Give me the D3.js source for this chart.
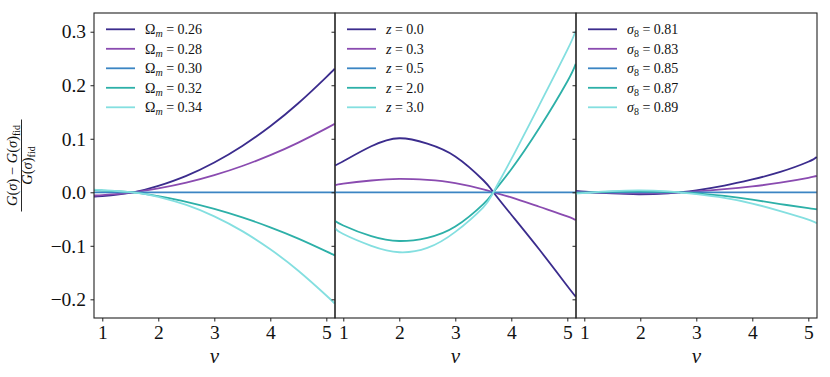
<!DOCTYPE html>
<html><head><meta charset="utf-8">
<script src="https://cdn.jsdelivr.net/npm/d3@7"></script>
<style>
body{margin:0;background:#fff}
svg{display:block}
text{font-family:"Liberation Serif","DejaVu Serif",serif;fill:#111}
</style>
</head><body>
<svg id="chart" width="830" height="377"></svg>
<script>
// ---------------- data ----------------
const colors = ["#3b2c8d", "#8a4bb0", "#3b85c3", "#2db0a8", "#84dfe0"];

const nuOmega = [0.85, 1.0, 1.55, 2.0, 2.5, 3.0, 3.5, 4.0, 4.5, 5.0, 5.15];
const omegaLabels = ["0.26", "0.28", "0.30", "0.32", "0.34"];
const omegaValues = [
  [-0.008, -0.0072, 0, 0.0119, 0.0308, 0.0557, 0.0866, 0.1235, 0.1664, 0.2153, 0.231],
  [-0.006, -0.0052, 0, 0.0071, 0.018, 0.032, 0.0491, 0.0694, 0.0929, 0.1194, 0.128],
  [0, 0, 0, 0, 0, 0, 0, 0, 0, 0, 0],
  [0.004, 0.0033, 0, -0.0072, -0.0178, -0.031, -0.0469, -0.0654, -0.0865, -0.1104, -0.118],
  [0.005, 0.0042, 0, -0.0084, -0.0236, -0.045, -0.0726, -0.1065, -0.1466, -0.1929, -0.208]
];

const nuZ = [0.85, 1.0, 1.5, 2.0, 2.5, 3.0, 3.5, 3.68, 4.0, 4.5, 5.0, 5.15];
const zLabels = ["0.0", "0.3", "0.5", "2.0", "3.0"];
const zValues = [
  [0.050, 0.058, 0.086, 0.101, 0.091, 0.067, 0.0225, 0, -0.042, -0.107, -0.175, -0.195],
  [0.013, 0.016, 0.022, 0.025, 0.023, 0.017, 0.0055, 0, -0.0095, -0.027, -0.045, -0.052],
  [0, 0, 0, 0, 0, 0, 0, 0, 0, 0, 0, 0],
  [-0.053, -0.062, -0.082, -0.091, -0.085, -0.064, -0.022, 0, 0.043, 0.12, 0.207, 0.24],
  [-0.067, -0.078, -0.100, -0.112, -0.104, -0.074, -0.028, 0, 0.062, 0.163, 0.266, 0.302]
];

const nuSigma8 = [0.85, 1.14, 1.5, 2.0, 2.5, 2.7, 3.0, 3.5, 4.0, 4.5, 5.0, 5.15];
const sigma8Labels = ["0.81", "0.83", "0.85", "0.87", "0.89"];
const sigma8Values = [
  [0.0025, 0, -0.0022, -0.0037, -0.0018, 0, 0.0037, 0.0124, 0.024, 0.038, 0.057, 0.066],
  [0.0013, 0, -0.0011, -0.0019, -0.0009, 0, 0.0018, 0.0058, 0.011, 0.018, 0.027, 0.0305],
  [0, 0, 0, 0, 0, 0, 0, 0, 0, 0, 0, 0],
  [-0.0012, 0, 0.0011, 0.0018, 0.0009, 0, -0.002, -0.0068, -0.0137, -0.022, -0.0295, -0.032],
  [-0.0024, 0, 0.0022, 0.0035, 0.0017, 0, -0.0035, -0.0105, -0.021, -0.035, -0.051, -0.058]
];

const xTicks = [1, 2, 3, 4, 5];
const yTicks = [-0.2, -0.1, 0.0, 0.1, 0.2, 0.3];

// ---------------- layout ----------------
const svg = d3.select("#chart");
const panelLefts = [94, 335, 576];
const panelW = 241, plotTop = 13, plotBottom = 318;
const xDomain = [0.852, 5.155];
const yDomain = [-0.2349, 0.335];
const y = d3.scaleLinear().domain(yDomain).range([plotBottom, plotTop]);

const panels = [
  {nu: nuOmega, vals: omegaValues, labels: omegaLabels, kind: "omega"},
  {nu: nuZ, vals: zValues, labels: zLabels, kind: "z"},
  {nu: nuSigma8, vals: sigma8Values, labels: sigma8Labels, kind: "sigma"}
];

const defs = svg.append("defs");

panels.forEach((p, pi) => {
  const L = panelLefts[pi];
  const x = d3.scaleLinear().domain(xDomain).range([L, L + panelW]);
  const g = svg.append("g");

  defs.append("clipPath").attr("id", "clip" + pi)
    .append("rect").attr("x", L).attr("y", plotTop).attr("width", panelW).attr("height", plotBottom - plotTop);

  const line = d3.line().x((d, i) => x(p.nu[i])).y(d => y(d)).curve(d3.curveNatural);
  const lg = g.append("g").attr("clip-path", `url(#clip${pi})`);
  p.vals.forEach((vals, si) => {
    lg.append("path").attr("d", line(vals)).attr("fill", "none")
      .attr("stroke", colors[si]).attr("stroke-width", 1.8).attr("stroke-linejoin", "round");
  });

  const xa = g.append("g").attr("transform", `translate(0,${plotBottom})`)
    .call(d3.axisBottom(x).tickValues(xTicks).tickSize(3.5).tickPadding(4).tickFormat(d3.format("d")));
  xa.select(".domain").remove();
  xa.selectAll("text").attr("font-size", 19.5).attr("font-family", "Liberation Serif").attr("fill", "#111");
  xa.selectAll("line").attr("stroke", "#222").attr("stroke-width", 1);

  const ya = g.append("g").attr("transform", `translate(${L},0)`)
    .call(d3.axisLeft(y).tickValues(yTicks).tickSize(3.5).tickPadding(4.5)
      .tickFormat(pi === 0 ? d3.format(".1f") : () => ""));
  ya.select(".domain").remove();
  ya.selectAll("text").attr("font-size", 19.5).attr("font-family", "Liberation Serif").attr("fill", "#111");
  ya.selectAll("line").attr("stroke", "#222").attr("stroke-width", 1);

  g.append("rect").attr("x", L).attr("y", plotTop).attr("width", panelW).attr("height", plotBottom - plotTop)
    .attr("fill", "none").attr("stroke", "#222").attr("stroke-width", 1.1);

  g.append("text").attr("x", L + panelW / 2).attr("y", 363).attr("text-anchor", "middle")
    .attr("font-size", 21).attr("font-style", "italic").text("ν");

  p.labels.forEach((lab, si) => {
    const ly = 29.3 + si * 19.5;
    g.append("line").attr("x1", L + 12).attr("x2", L + 41).attr("y1", ly).attr("y2", ly)
      .attr("stroke", colors[si]).attr("stroke-width", 1.8);
    const t = g.append("text").attr("x", L + 51).attr("y", ly + 4.8).attr("font-size", 14);
    if (p.kind === "omega") {
      t.append("tspan").text("Ω");
      t.append("tspan").attr("font-style", "italic").attr("font-size", 10).attr("dy", 3).text("m");
      t.append("tspan").attr("dy", -3).text(" = " + lab);
    } else if (p.kind === "z") {
      t.append("tspan").attr("font-style", "italic").text("z");
      t.append("tspan").text("  =  " + lab);
    } else {
      t.append("tspan").attr("font-style", "italic").text("σ");
      t.append("tspan").attr("font-size", 10).attr("dy", 3).text("8");
      t.append("tspan").attr("dy", -3).text(" = " + lab);
    }
  });
});

// y label (fraction)
const yl = svg.append("g").attr("transform", "translate(0,165.5) rotate(-90)");
const num = yl.append("text").attr("x", 0).attr("y", 16.5).attr("text-anchor", "middle").attr("font-size", 14.5);
num.append("tspan").attr("font-style", "italic").text("G");
num.append("tspan").text("(");
num.append("tspan").attr("font-style", "italic").text("σ");
num.append("tspan").text(") − ");
num.append("tspan").attr("font-style", "italic").text("G");
num.append("tspan").text("(");
num.append("tspan").attr("font-style", "italic").text("σ");
num.append("tspan").text(")");
num.append("tspan").attr("font-size", 10).attr("dy", 3).text("fid");
yl.append("line").attr("x1", -46).attr("x2", 46).attr("y1", 21.5).attr("y2", 21.5)
  .attr("stroke", "#111").attr("stroke-width", 0.9);
const den = yl.append("text").attr("x", 0).attr("y", 32).attr("text-anchor", "middle").attr("font-size", 14.5);
den.append("tspan").attr("font-style", "italic").text("G");
den.append("tspan").text("(");
den.append("tspan").attr("font-style", "italic").text("σ");
den.append("tspan").text(")");
den.append("tspan").attr("font-size", 10).attr("dy", 3).text("fid");
</script>
</body></html>
